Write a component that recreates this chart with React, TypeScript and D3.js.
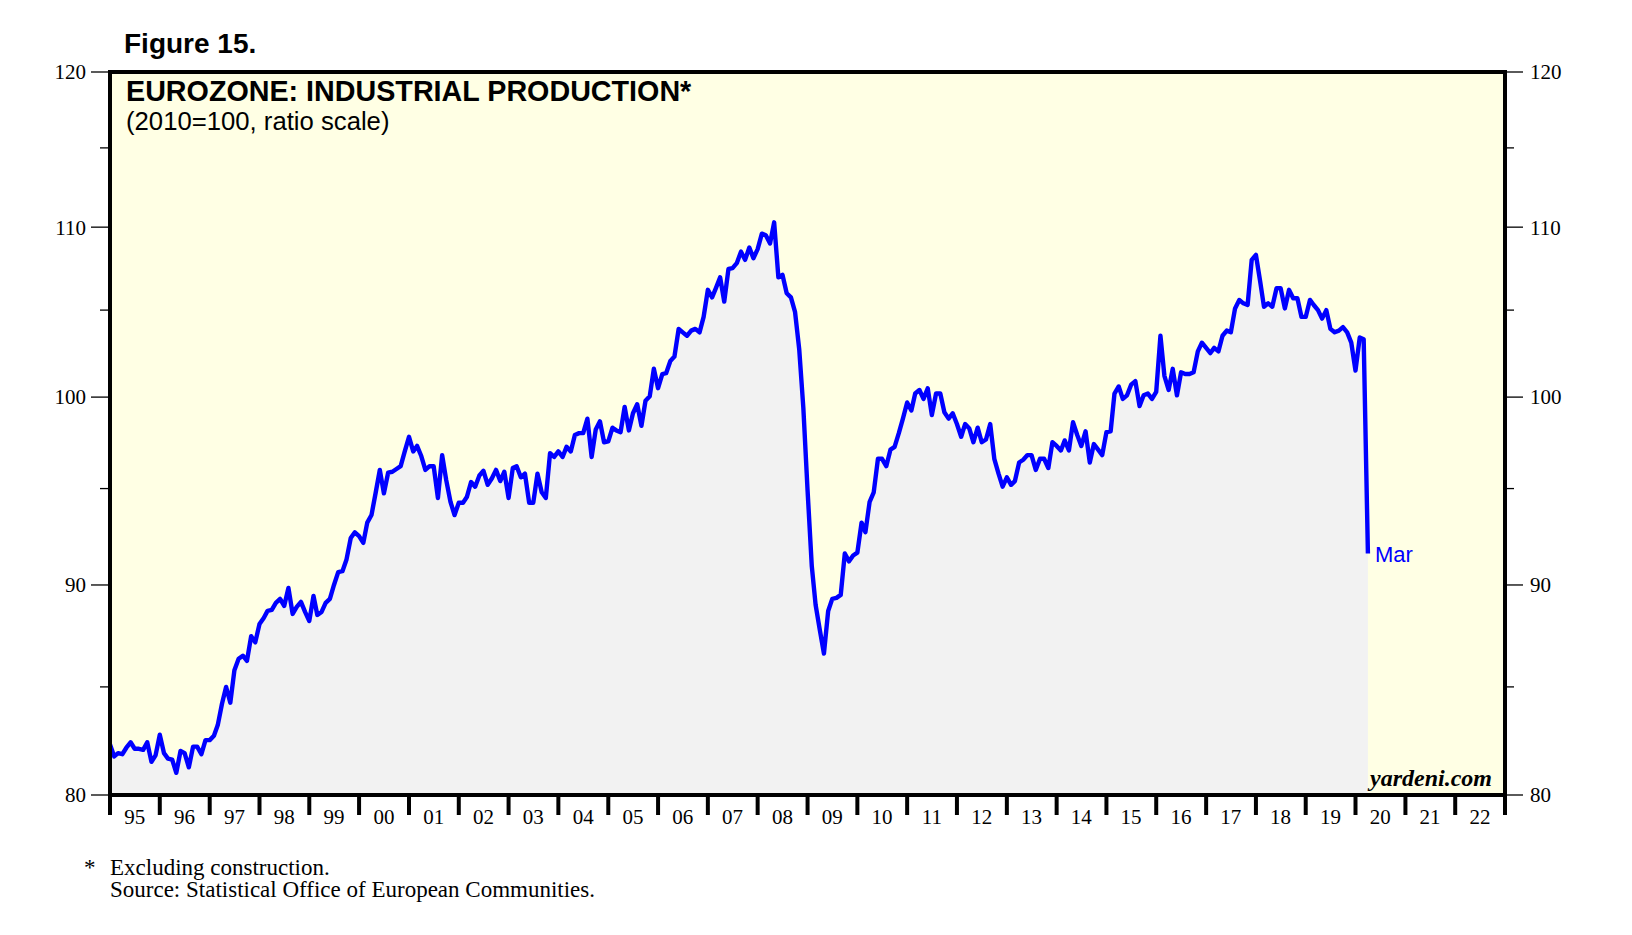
import * as d3 from "d3";

// monthly index, 2010=100; first value is Dec 1994, last is Mar 2020
const startMonth = new Date(1994, 11, 1);

const ip1994_1999 = [
  82.3, 81.75, 81.9, 81.85, 82.15, 82.4, 82.1, 82.1, 82.05, 82.4, 81.5, 81.8, 82.75,
  81.9, 81.65, 81.6, 81.0, 82.0, 81.9, 81.25, 82.2, 82.2, 81.85, 82.5, 82.5,
  82.7, 83.2, 84.2, 85.0, 84.25, 85.8, 86.35, 86.5, 86.25, 87.45, 87.15, 88.05,
  88.35, 88.7, 88.75, 89.1, 89.3, 88.95, 89.85, 88.55, 88.9, 89.15, 88.65, 88.2,
  89.45, 88.5, 88.65, 89.1, 89.3, 90.0, 90.65, 90.7, 91.3, 92.4, 92.7, 92.5,
];
const ip2000_2004 = [
  92.15, 93.2, 93.6, 94.75, 96.0, 94.75, 95.85, 95.9, 96.05, 96.2, 97.0, 97.8,
  97.0, 97.3, 96.75, 96.0, 96.2, 96.2, 94.5, 96.8, 95.45, 94.3, 93.6, 94.25,
  94.25, 94.55, 95.35, 95.1, 95.7, 95.95, 95.2, 95.55, 96.0, 95.4, 95.9, 94.5,
  96.1, 96.2, 95.6, 95.8, 94.25, 94.25, 95.8, 94.8, 94.5, 96.9, 96.7, 97.0,
  96.7, 97.25, 97.0, 97.9, 98.0, 98.0, 98.8, 96.7, 98.2, 98.65, 97.5, 97.55,
];
const ip2005_2009 = [
  98.3, 98.15, 98.05, 99.45, 98.15, 99.1, 99.6, 98.4, 99.8, 100.05, 101.6, 100.5,
  101.3, 101.35, 102.05, 102.3, 103.9, 103.7, 103.5, 103.8, 103.9, 103.7, 104.6, 106.2,
  105.75, 106.3, 106.95, 105.5, 107.45, 107.5, 107.8, 108.5, 108.0, 108.75, 108.1, 108.65,
  109.6, 109.5, 109.0, 110.3, 106.95, 107.1, 106.0, 105.75, 104.9, 102.7, 99.4, 94.9,
  90.95, 89.0, 87.75, 86.6, 88.7, 89.3, 89.35, 89.5, 91.6, 91.2, 91.5, 91.65,
];
const ip2010_2014 = [
  93.2, 92.7, 94.3, 94.8, 96.6, 96.6, 96.2, 97.1, 97.25, 98.0, 98.8, 99.7,
  99.25, 100.2, 100.4, 99.9, 100.5, 99.0, 100.2, 100.2, 99.15, 98.8, 99.1, 98.5,
  97.8, 98.5, 98.25, 97.5, 98.3, 97.5, 97.65, 98.5, 96.6, 95.8, 95.1, 95.6,
  95.2, 95.4, 96.4, 96.55, 96.8, 96.8, 96.0, 96.6, 96.6, 96.1, 97.5, 97.3,
  97.05, 97.6, 97.05, 98.6, 97.9, 97.3, 98.1, 96.4, 97.4, 97.1, 96.8, 98.05,
];
const ip2015_2020 = [
  98.1, 100.2, 100.6, 99.9, 100.1, 100.7, 100.9, 99.5, 100.1, 100.2, 99.9, 100.3,
  103.5, 101.2, 100.4, 101.6, 100.1, 101.4, 101.3, 101.3, 101.4, 102.6, 103.1, 102.8,
  102.5, 102.8, 102.6, 103.5, 103.8, 103.7, 105.1, 105.6, 105.4, 105.3, 108.0, 108.3,
  106.7, 105.2, 105.4, 105.2, 106.3, 106.3, 105.1, 106.2, 105.7, 105.7, 104.6, 104.6,
  105.6, 105.3, 105.0, 104.5, 105.0, 103.9, 103.7, 103.8, 104.0, 103.7, 103.1, 101.5,
  103.4, 103.3, 91.6,
];

const yearLabels = [
  "95", "96", "97", "98", "99", "00", "01", "02", "03", "04", "05", "06", "07", "08",
  "09", "10", "11", "12", "13", "14", "15", "16", "17", "18", "19", "20", "21", "22",
];
const majorTicks = [80, 90, 100, 110, 120];
const minorTicks = [85, 95, 105, 115];

const serif = "'Liberation Serif', 'Times New Roman', serif";
const sans = "'Liberation Sans', Arial, sans-serif";

const values = [...ip1994_1999, ...ip2000_2004, ...ip2005_2009, ...ip2010_2014, ...ip2015_2020];
// each month is drawn at its end (start of the following month)
const series = values.map((v, i) => ({ date: d3.timeMonth.offset(startMonth, i + 1), value: v }));

export default function App() {
  const width = 1632;
  const height = 935;
  const frame = { left: 110, right: 1505, top: 72, bottom: 795 };

  const x = d3
    .scaleTime()
    .domain([new Date(1995, 0, 1), new Date(2023, 0, 1)])
    .range([frame.left, frame.right]);
  const y = d3.scaleLog().domain([80, 120]).range([frame.bottom, frame.top]);

  const line = d3
    .line<{ date: Date; value: number }>()
    .x((d) => x(d.date))
    .y((d) => y(d.value));
  const area = d3
    .area<{ date: Date; value: number }>()
    .x((d) => x(d.date))
    .y0(y(80))
    .y1((d) => y(d.value));

  const years = d3.range(1995, 2024);
  const last = series[series.length - 1];

  return (
    <svg
      width={width}
      height={height}
      style={{ position: "absolute", left: 0, top: 0, background: "#fff" }}
    >
      <defs>
        <clipPath id="plot">
          <rect
            x={frame.left}
            y={frame.top}
            width={frame.right - frame.left}
            height={frame.bottom - frame.top}
          />
        </clipPath>
      </defs>

      <text x={124} y={53} fontFamily={sans} fontWeight="bold" fontSize={28}>
        Figure 15.
      </text>

      <rect
        x={frame.left}
        y={frame.top}
        width={frame.right - frame.left}
        height={frame.bottom - frame.top}
        fill="#ffffe4"
      />
      <g clipPath="url(#plot)">
        <path d={area(series) ?? ""} fill="#f2f2f2" />
        <path
          d={line(series) ?? ""}
          fill="none"
          stroke="#0000ff"
          strokeWidth={4.4}
          strokeLinejoin="round"
        />
      </g>

      <text x={126} y={101} fontFamily={sans} fontWeight="bold" fontSize={28.7}>
        EUROZONE: INDUSTRIAL PRODUCTION*
      </text>
      <text x={126} y={130} fontFamily={sans} fontSize={25.7}>
        (2010=100, ratio scale)
      </text>

      <text x={x(last.date) + 7} y={y(last.value) + 8} fontFamily={sans} fontSize={22} fill="#0000ff">
        Mar
      </text>
      <text
        x={1492}
        y={786}
        textAnchor="end"
        fontFamily={serif}
        fontWeight="bold"
        fontStyle="italic"
        fontSize={24}
      >
        yardeni.com
      </text>

      <rect
        x={frame.left}
        y={frame.top}
        width={frame.right - frame.left}
        height={frame.bottom - frame.top}
        fill="none"
        stroke="#000"
        strokeWidth={4}
      />

      {majorTicks.map((v) => (
        <g key={`maj-${v}`}>
          <line x1={91} x2={frame.left} y1={y(v)} y2={y(v)} stroke="#000" strokeWidth={1.3} />
          <line x1={frame.right} x2={1523} y1={y(v)} y2={y(v)} stroke="#000" strokeWidth={1.3} />
          <text x={86} y={y(v)} dy="0.35em" textAnchor="end" fontFamily={serif} fontSize={21}>
            {v}
          </text>
          <text x={1530} y={y(v)} dy="0.35em" fontFamily={serif} fontSize={21}>
            {v}
          </text>
        </g>
      ))}
      {minorTicks.map((v) => (
        <g key={`min-${v}`}>
          <line x1={100} x2={frame.left} y1={y(v)} y2={y(v)} stroke="#000" strokeWidth={1.3} />
          <line x1={frame.right} x2={1514} y1={y(v)} y2={y(v)} stroke="#000" strokeWidth={1.3} />
        </g>
      ))}

      {years.map((yr) => (
        <line
          key={`xt-${yr}`}
          x1={x(new Date(yr, 0, 1))}
          x2={x(new Date(yr, 0, 1))}
          y1={frame.bottom}
          y2={815}
          stroke="#000"
          strokeWidth={4}
        />
      ))}
      {yearLabels.map((lab, i) => (
        <text
          key={`xl-${lab}`}
          x={x(new Date(1995 + i, 6, 1))}
          y={824}
          textAnchor="middle"
          fontFamily={serif}
          fontSize={21}
        >
          {lab}
        </text>
      ))}

      <text x={84} y={875} fontFamily={serif} fontSize={23}>
        *
      </text>
      <text x={110} y={875} fontFamily={serif} fontSize={23}>
        Excluding construction.
      </text>
      <text x={110} y={897} fontFamily={serif} fontSize={23}>
        Source: Statistical Office of European Communities.
      </text>
    </svg>
  );
}
